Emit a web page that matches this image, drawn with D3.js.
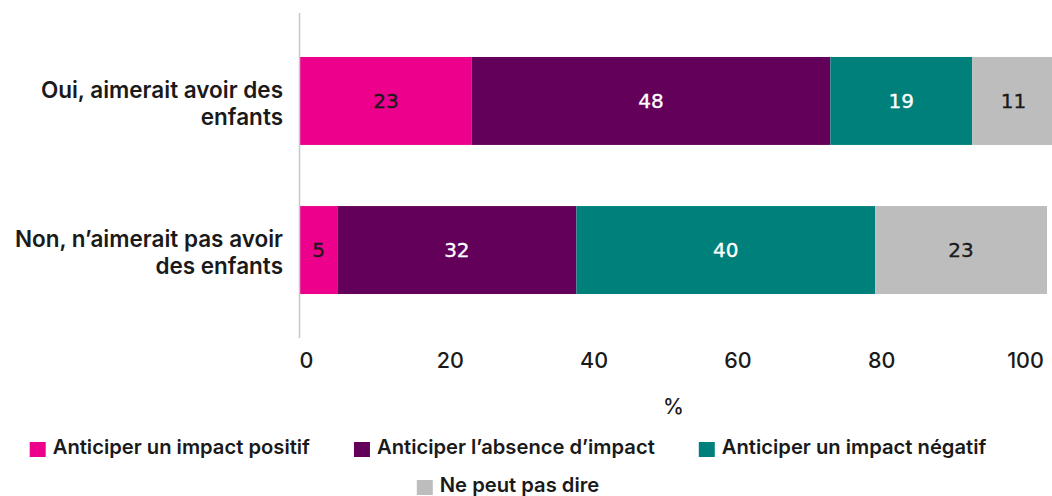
<!DOCTYPE html>
<html>
<head>
<meta charset="utf-8">
<script src="https://cdn.jsdelivr.net/npm/d3@7"></script>
<style>
  html, body { margin: 0; padding: 0; background: #fff; }
  svg { display: block; }
</style>
</head>
<body>
<svg id="chart" width="1052" height="496"></svg>
<script>
// ---- Data ----
const categories = ["Oui, aimerait avoir des enfants", "Non, n’aimerait pas avoir des enfants"];
const seriesNames = ["Anticiper un impact positif", "Anticiper l’absence d’impact", "Anticiper un impact négatif", "Ne peut pas dire"];
const positif = [23, 5];
const absence = [48, 32];
const negatif = [19, 40];
const nspd = [11, 23];
const tickValues = [0, 20, 40, 60, 80, 100];
const axisTitle = "%";

const seriesColors = ["#EC008C", "#62005A", "#00807A", "#BDBDBD"];
const labelColors = ["#1a1a1a", "#ffffff", "#ffffff", "#1a1a1a"];

// ---- Setup ----
const svg = d3.select("#chart");
const x = d3.scaleLinear().domain([0, 100]).range([300, 1047]);
const xLabels = d3.scaleLinear().domain([0, 100]).range([306, 1025]);
const y = d3.scaleBand().domain(categories).range([13, 338]).paddingInner(0.41).paddingOuter(0.295);

const seriesData = [positif, absence, negatif, nspd];
const rows = categories.map((c, i) => {
  let acc = 0;
  return seriesData.map((s, k) => {
    const seg = { cat: c, k, v: s[i], x0: acc, x1: acc + s[i] };
    acc += s[i];
    return seg;
  });
});

const textFont = "Inter, 'Noto Sans', sans-serif";

// Bars
const g = svg.append("g");
rows.forEach(segs => {
  g.selectAll(null).data(segs).enter().append("rect")
    .attr("x", d => x(d.x0))
    .attr("y", d => y(d.cat))
    .attr("width", d => x(d.x1) - x(d.x0))
    .attr("height", y.bandwidth())
    .attr("fill", d => seriesColors[d.k]);
  g.selectAll(null).data(segs).enter().append("text")
    .attr("x", d => (x(d.x0) + x(d.x1)) / 2)
    .attr("y", d => y(d.cat) + y.bandwidth() / 2)
    .attr("dy", "0.36em")
    .attr("text-anchor", "middle")
    .attr("font-family", "'DejaVu Sans', sans-serif")
    .attr("font-size", 20)
    .attr("stroke", d => labelColors[d.k])
    .attr("stroke-width", 0.35)
    .attr("fill", d => labelColors[d.k])
    .text(d => d.v);
});

// Vertical axis line
svg.append("line")
  .attr("x1", x(0) - 0.5).attr("x2", x(0) - 0.5)
  .attr("y1", y.range()[0]).attr("y2", y.range()[1])
  .attr("stroke", "#c8c8c8").attr("stroke-width", 1.5);

// Category labels (wrapped)
const catG = svg.append("g");
categories.forEach(c => {
  const t = catG.append("text")
    .attr("text-anchor", "end")
    .attr("font-family", textFont)
    .attr("font-weight", 600)
    .attr("font-size", 22.5)
    .attr("fill", "#1a1a1a");
  const words = c.split(" ");
  const lines = [];
  let line = [];
  const probe = t.append("tspan");
  words.forEach(w => {
    line.push(w);
    probe.text(line.join(" "));
    if (probe.node().getComputedTextLength() > 280 && line.length > 1) {
      line.pop();
      lines.push(line.join(" "));
      line = [w];
    }
  });
  lines.push(line.join(" "));
  probe.remove();
  const cy = y(c) + y.bandwidth() / 2;
  const lh = 27;
  lines.forEach((ln, i) => {
    t.append("tspan")
      .attr("x", 283)
      .attr("y", cy + (i - (lines.length - 1) / 2) * lh + 2)
      .attr("dy", "0.36em")
      .text(ln);
  });
});

// X axis tick labels
const axisG = svg.append("g").attr("transform", "translate(0,360)");
axisG.call(d3.axisBottom(xLabels).tickValues(tickValues).tickSize(0).tickPadding(0).tickFormat(d3.format("d")));
axisG.select(".domain").remove();
axisG.selectAll("text")
  .attr("y", 0).attr("dy", "0.36em")
  .attr("font-family", textFont)
  .attr("font-weight", 500)
  .attr("font-size", 21.5)
  .attr("fill", "#1a1a1a");

// Axis title
svg.append("text")
  .attr("x", (x(0) + x(100)) / 2)
  .attr("y", 414)
  .attr("text-anchor", "middle")
  .attr("font-family", textFont)
  .attr("font-weight", 500)
  .attr("font-size", 21)
  .attr("fill", "#1a1a1a")
  .text(axisTitle);

// Legend
const legendRows = [[0, 1, 2], [3]];
const legendCenter = 508;
const sw = 16, swGap = 7, itemGap = 44;
const legendFontSize = 20.2;
legendRows.forEach((items, r) => {
  const rowG = svg.append("g");
  const baseY = 454 + r * 38;
  let cx = 0;
  items.forEach(k => {
    const item = rowG.append("g").attr("transform", `translate(${cx},0)`);
    item.append("rect")
      .attr("x", 0).attr("y", baseY - 12)
      .attr("width", sw).attr("height", sw - 1)
      .attr("fill", seriesColors[k]);
    const t = item.append("text")
      .attr("x", sw + swGap).attr("y", baseY)
      .attr("font-family", textFont)
      .attr("font-weight", 600)
      .attr("font-size", legendFontSize)
      .attr("fill", "#1a1a1a")
      .text(seriesNames[k]);
    cx += sw + swGap + t.node().getComputedTextLength() + itemGap;
  });
  const total = cx - itemGap;
  rowG.attr("transform", `translate(${legendCenter - total / 2},0)`);
});
</script>
</body>
</html>
